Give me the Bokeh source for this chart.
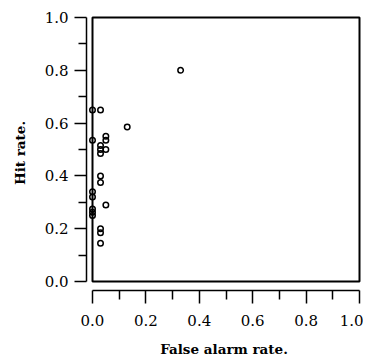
from bokeh.plotting import figure
from bokeh.models import Range1d, FixedTicker, BoxAnnotation
from bokeh.embed import file_html
from bokeh.resources import INLINE

# Data
false_alarm = [0.33, 0.00, 0.03, 0.13, 0.00, 0.05, 0.05, 0.05, 0.03, 0.03, 0.03,
               0.03, 0.03, 0.00, 0.00, 0.05, 0.00, 0.00, 0.00, 0.03, 0.03, 0.03]
hit_rate = [0.80, 0.65, 0.65, 0.585, 0.535, 0.55, 0.535, 0.50, 0.515, 0.50, 0.485,
            0.40, 0.375, 0.34, 0.32, 0.29, 0.275, 0.262, 0.25, 0.20, 0.185, 0.145]

tick_values = [0.0, 0.2, 0.4, 0.6, 0.8, 1.0]
tick_labels = ["0.0", "0.2", "0.4", "0.6", "0.8", "1.0"]
minor_values = [0.1, 0.3, 0.5, 0.7, 0.9]

x_label = "False alarm rate."
y_label = "Hit rate."

p = figure(frame_width=275, frame_height=275,
           x_range=Range1d(-6 / 267, 1 + 2 / 267),
           y_range=Range1d(-9 / 264, 1 + 2 / 264),
           output_backend="svg", toolbar_location=None,
           min_border_left=86, min_border_top=15, min_border_right=2,
           min_border_bottom=60)
p.outline_line_color = None
p.xgrid.visible = False
p.ygrid.visible = False
p.background_fill_color = "white"
p.border_fill_color = "white"

box = BoxAnnotation(left=0, right=1, bottom=0, top=1, fill_alpha=0,
                    line_color="black", line_width=2, line_alpha=1)
p.add_layout(box)

p.scatter(false_alarm, hit_rate, size=5.5, marker="circle", fill_color=None,
          line_color="black", line_width=1.5)

for ax in (p.xaxis[0], p.yaxis[0]):
    ax.ticker = FixedTicker(ticks=tick_values, minor_ticks=minor_values)
    ax.major_label_overrides = {v: l for v, l in zip(tick_values, tick_labels)}
    ax.bounds = (0, 1)
    ax.axis_line_color = "black"
    ax.axis_line_width = 1.5
    ax.major_tick_line_color = "black"
    ax.major_tick_line_width = 1.5
    ax.minor_tick_line_color = "black"
    ax.minor_tick_line_width = 1.5
    ax.major_tick_in = 0
    ax.minor_tick_in = 0
    ax.major_label_text_font = "DejaVu Serif"
    ax.major_label_text_font_size = "15px"
    ax.major_label_text_color = "black"
    ax.axis_label_text_font = "DejaVu Serif"
    ax.axis_label_text_font_size = "13.5px"
    ax.axis_label_text_font_style = "bold"
    ax.axis_label_text_color = "black"

p.xaxis[0].axis_label = x_label
p.yaxis[0].axis_label = y_label
p.xaxis[0].major_tick_out = 13
p.xaxis[0].minor_tick_out = 9
p.xaxis[0].major_label_standoff = 11
p.xaxis[0].axis_label_standoff = 12
p.yaxis[0].major_tick_out = 12
p.yaxis[0].minor_tick_out = 8
p.yaxis[0].major_label_standoff = 6
p.yaxis[0].axis_label_standoff = 14

open("out.html", "w").write(file_html(p, INLINE))
